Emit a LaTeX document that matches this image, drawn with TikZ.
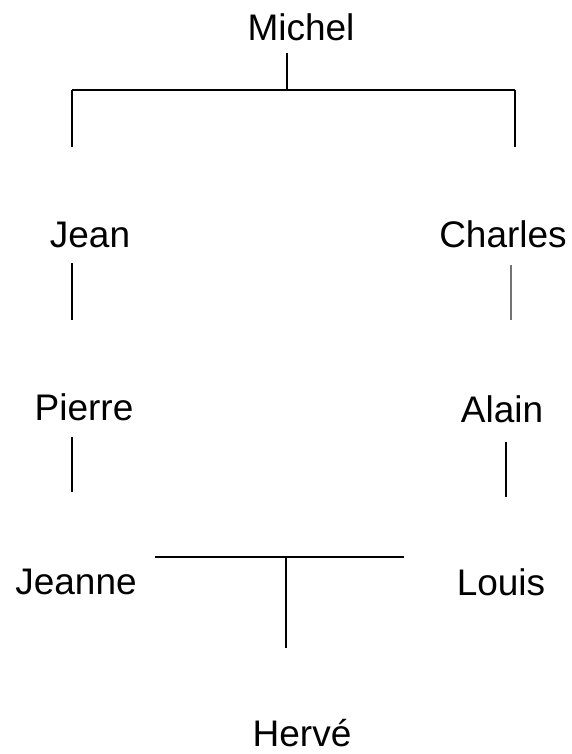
\documentclass[tikz,border=0pt]{standalone}
\usepackage{fontspec}
\setmainfont{Liberation Sans}
\begin{document}
\begin{tikzpicture}[x=1pt,y=-1pt,
  person/.style={anchor=base,inner sep=0pt,font=\fontsize{37}{44}\selectfont},
  link/.style={draw=black,line width=1.7pt,line cap=butt},
  lightlink/.style={link,draw=black!55}]
\useasboundingbox (0,0) rectangle (571,754);
% names
\node[person] (michel)  at (301,41)  {Michel};
\node[person] (jean)    at (90,247)  {Jean};
\node[person] (charles) at (503,247) {Charles};
\node[person] (pierre)  at (84,420)  {Pierre};
\node[person] (alain)   at (502,422) {Alain};
\node[person] (jeanne)  at (76,594)  {Jeanne};
\node[person] (louis)   at (501,595) {Louis};
\node[person] (herve)   at (302,746) {Hervé};
% connector end points
\coordinate (mtop) at (287,53);
\coordinate (mbar) at (287,90);
\coordinate (barl) at (72,90);
\coordinate (barr) at (515,90);
\coordinate (jeanup) at (72,147);
\coordinate (charlesup) at (515,147);
\coordinate (j1) at (72,263);
\coordinate (j2) at (72,320);
\coordinate (c1) at (511,265);
\coordinate (c2) at (511,320);
\coordinate (p1) at (72,437);
\coordinate (p2) at (72,492);
\coordinate (a1) at (506,442);
\coordinate (a2) at (506,497);
\coordinate (ml) at (155,557);
\coordinate (mr) at (404,557);
\coordinate (hm) at (286,557);
\coordinate (hd) at (286,648);
% connectors
\draw[link,line width=2.6pt] (mtop) -- (mbar);
\draw[link] (barl) -- (barr);
\draw[link] (barl) -- (jeanup);
\draw[link] (barr) -- (charlesup);
\draw[link] (j1) -- (j2);
\draw[lightlink] (c1) -- (c2);
\draw[link] (p1) -- (p2);
\draw[link,line width=2.2pt] (a1) -- (a2);
\draw[link] (ml) -- (mr);
\draw[link,line width=2.2pt] (hm) -- (hd);
\end{tikzpicture}
\end{document}
